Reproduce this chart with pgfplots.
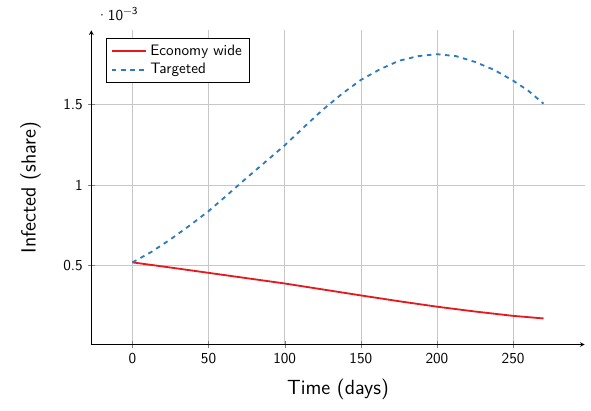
\documentclass[border=0pt]{standalone}
\usepackage{pgfplots}
\pgfplotsset{compat=1.18}
\renewcommand{\familydefault}{\sfdefault}
\definecolor{cred}{RGB}{228,26,28}
\definecolor{cblue}{RGB}{45,122,190}
\begin{document}
\begin{tikzpicture}[font=\sffamily]
\begin{axis}[
  scale only axis,
  width=325pt, height=207pt,
  axis lines=left,
  xmin=-27, xmax=297,
  ymin=0.01e-3, ymax=1.96e-3,
  xtick={0,50,100,150,200,250},
  ytick={0.5e-3,1e-3,1.5e-3},
  /pgf/number format/assume math mode=true,
  scaled y ticks=manual:{\mbox{·10\textsuperscript{−3}}}{\pgfmathparse{#1*1000}},
  grid=major,
  major grid style={thin,black!22},
  xlabel={\fontsize{13.5}{16}\selectfont Time (days)},
  ylabel={\fontsize{13.5}{16}\selectfont Infected (share)},
  xlabel style={yshift=-3pt},
  ylabel style={yshift=8pt},
  legend style={at={(0.03,0.975)},anchor=north west,draw=black,font=\sffamily\normalsize},
  legend cell align=left,
  legend image code/.code={\draw[#1] (0cm,0cm) -- (0.8cm,0cm);},
]
\addplot[cred, line width=1.2pt] coordinates {
(0,0.520e-3) (25,0.488e-3) (50,0.455e-3) (75,0.422e-3) (100,0.389e-3) (125,0.352e-3)
(150,0.315e-3) (175,0.279e-3) (200,0.245e-3) (225,0.215e-3) (250,0.188e-3) (270,0.172e-3)
};
\addlegendentry{Economy wide}
\addplot[cblue, line width=1.2pt, dashed] coordinates {
(0,0.520e-3) (12.5,0.585e-3) (25,0.663e-3) (37.5,0.748e-3) (50,0.838e-3) (62.5,0.940e-3)
(75,1.044e-3) (87.5,1.145e-3) (100,1.246e-3) (112.5,1.358e-3) (125,1.467e-3) (137.5,1.565e-3)
(150,1.652e-3) (162.5,1.718e-3) (175,1.771e-3) (187.5,1.800e-3) (200,1.812e-3) (212.5,1.800e-3)
(225,1.764e-3) (237.5,1.715e-3) (250,1.648e-3) (260,1.585e-3) (270,1.505e-3)
};
\addlegendentry{Targeted}
\end{axis}
\path ([shift={(-10pt,-4pt)}]current bounding box.south west) rectangle ([shift={(4pt,5pt)}]current bounding box.north east);
\end{tikzpicture}
\end{document}
